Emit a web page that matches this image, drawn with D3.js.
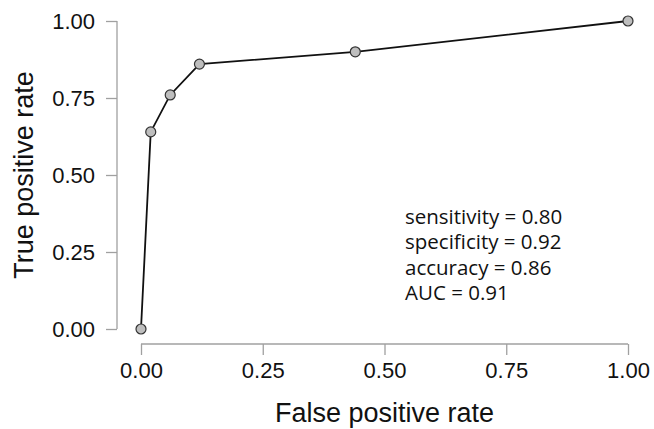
<!DOCTYPE html>
<html>
<head>
<meta charset="utf-8">
<script src="https://cdn.jsdelivr.net/npm/d3@7"></script>
<style>
  body { margin: 0; background: #fff; }
  svg { display: block; }
  .axis path, .axis line { stroke: #a0a0a0; stroke-width: 1.3; }
  .axis text { font-family: "Liberation Sans", Arial, sans-serif; font-size: 22px; fill: #111; }
  .label { font-family: "Liberation Sans", Arial, sans-serif; font-size: 27px; fill: #111; }
  .note { font-family: "Open Sans", sans-serif; font-size: 20.5px; fill: #111; }
</style>
</head>
<body>
<svg id="chart" width="654" height="429"></svg>
<script>
// ROC curve points
var fpr = [0, 0.02, 0.06, 0.12, 0.44, 1];
var tpr = [0, 0.64, 0.76, 0.86, 0.90, 1];
var ticks = [0, 0.25, 0.5, 0.75, 1];
var notes = ["sensitivity = 0.80", "specificity = 0.92", "accuracy = 0.86", "AUC = 0.91"];

var params = {
  "plot": { "x0": 141, "x1": 628, "y0": 329, "y1": 21 },
  "axisGap": { "x": 15, "y": 24 },
  "tick": 11
};

var svg = d3.select("#chart");

var scale = {
  "x": d3.scaleLinear().domain([0, 1]).range([params.plot.x0, params.plot.x1]),
  "y": d3.scaleLinear().domain([0, 1]).range([params.plot.y0, params.plot.y1])
};

var fmt = d3.format(".2f");

// bottom axis, offset below the plot like base R
var gx = svg.append("g")
  .attr("class", "axis")
  .attr("transform", "translate(0," + (params.plot.y0 + params.axisGap.x) + ")")
  .call(d3.axisBottom(scale.x).tickValues(ticks).tickFormat(fmt)
    .tickSizeInner(params.tick).tickSizeOuter(0).tickPadding(7));
gx.select("path.domain").attr("d", "M" + scale.x(0) + ",0H" + scale.x(1));

var gy = svg.append("g")
  .attr("class", "axis")
  .attr("transform", "translate(" + (params.plot.x0 - params.axisGap.y) + ",0)")
  .call(d3.axisLeft(scale.y).tickValues(ticks).tickFormat(fmt)
    .tickSizeInner(params.tick).tickSizeOuter(0).tickPadding(11));
gy.select("path.domain").attr("d", "M0," + scale.y(0) + "V" + scale.y(1));

svg.append("text")
  .attr("class", "label")
  .attr("text-anchor", "middle")
  .attr("x", (params.plot.x0 + params.plot.x1) / 2)
  .attr("y", 422)
  .text("False positive rate");

svg.append("text")
  .attr("class", "label")
  .attr("text-anchor", "middle")
  .attr("transform", "translate(33," + (params.plot.y0 + params.plot.y1) / 2 + ") rotate(-90)")
  .text("True positive rate");

var pts = fpr.map(function(d, i) { return { "x": d, "y": tpr[i] }; });

var line = d3.line()
  .x(function(d) { return scale.x(d.x); })
  .y(function(d) { return scale.y(d.y); });

svg.append("path")
  .datum(pts)
  .attr("d", line)
  .attr("fill", "none")
  .attr("stroke", "#111")
  .attr("stroke-width", 1.8);

svg.selectAll("circle.pt")
  .data(pts)
  .enter()
  .append("circle")
  .attr("class", "pt")
  .attr("cx", function(d) { return scale.x(d.x); })
  .attr("cy", function(d) { return scale.y(d.y); })
  .attr("r", 5)
  .attr("fill", "#bebebe")
  .attr("stroke", "#333")
  .attr("stroke-width", 1.2);

svg.selectAll("text.note")
  .data(notes)
  .enter()
  .append("text")
  .attr("class", "note")
  .attr("x", 405)
  .attr("y", function(d, i) { return 224 + i * 25.3; })
  .text(function(d) { return d; });
</script>
</body>
</html>
